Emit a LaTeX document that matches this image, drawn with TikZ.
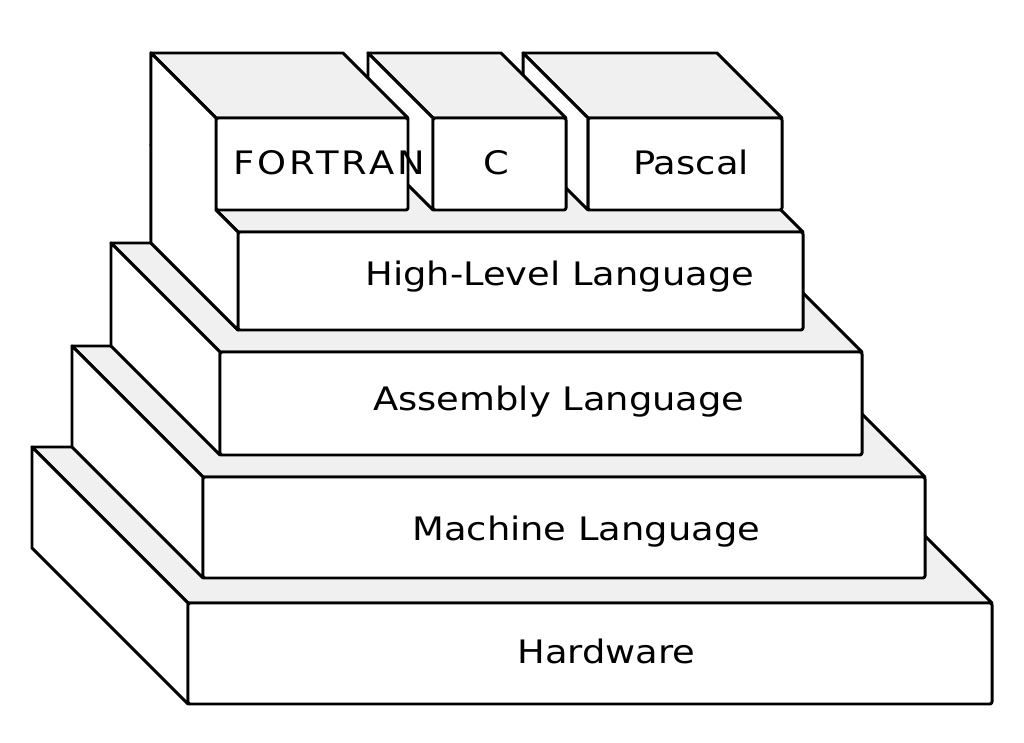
\documentclass[tikz,border=0pt]{standalone}
\usepackage{fontspec}
\newfontfamily\labelfont[FakeStretch=1.14]{DejaVu Sans}
\begin{document}
\begin{tikzpicture}[x=0.02cm,y=-0.02cm,
  edge/.style={line width=1.7pt,line join=round,line cap=round},
  topface/.style={edge,fill=black!6},
  sideface/.style={edge,fill=white},
  frontface/.style={edge,fill=white,rounded corners=1.2pt},
  lbl/.style={font=\labelfont\fontsize{18.4}{20}\selectfont,inner sep=0pt}]
\useasboundingbox (0,0) rectangle (1024,743);
\fill[white] (0,0) rectangle (1024,743);

% oblique block: front face (#1,#2)-(#3,#4), receding #5 up and to the left
\newcommand\layerbox[5]{%
  \draw[topface] (#1,#2) -- (#3,#2) -- ({#3-#5},{#2-#5}) -- ({#1-#5},{#2-#5}) -- cycle;
  \draw[sideface] (#1,#2) -- ({#1-#5},{#2-#5}) -- ({#1-#5},{#4-#5}) -- (#1,#4) -- cycle;
  \draw[frontface] (#1,#2) rectangle (#3,#4);
}

% layers, bottom to top
\layerbox{188}{603}{992}{704}{156}
\layerbox{203}{477}{925}{578}{131}
\layerbox{220}{352}{862}{455}{109}
\layerbox{238}{232}{803}{330}{87}

% languages on top, back to front
\layerbox{588}{118}{782}{210}{65}
\layerbox{433}{118}{566}{210}{65}
\layerbox{216}{118}{408}{210}{65}

% FORTRAN and the high-level layer share one unbroken left face
\draw[sideface] (151,53) -- (216,118) -- (216,210) -- (238,232)
  -- (238,330) -- (151,243) -- cycle;

\node[lbl,anchor=base west] (hw)  at (517,663) {Hardware};
\node[lbl,anchor=base west] (ml)  at (412,540) {Machine Language};
\node[lbl,anchor=base west] (al)  at (373,410) {Assembly Language};
\node[lbl,anchor=base west] (hll) at (365,285) {High-Level Language};
\node[lbl,anchor=base west] (pas) at (633,175) {Pascal};
\node[lbl,anchor=base]      (c)   at (496,175) {C};
\node[lbl,anchor=base west] (for) at (233,175) {\addfontfeature{LetterSpace=10}FORTRAN};
\end{tikzpicture}
\end{document}
